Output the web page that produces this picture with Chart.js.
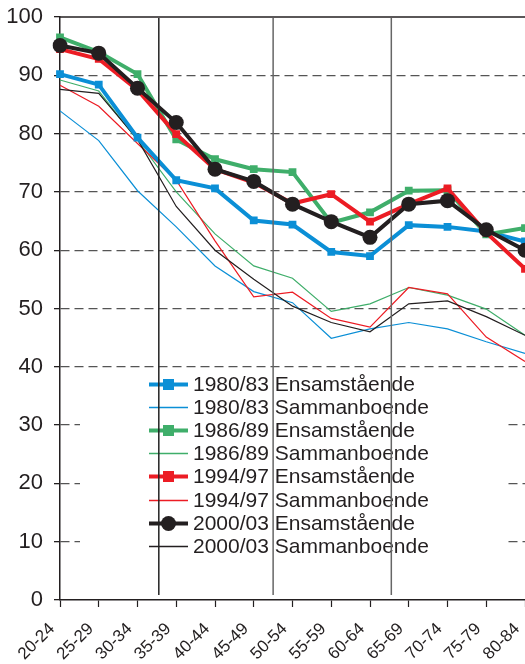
<!DOCTYPE html>
<html>
<head>
<meta charset="utf-8">
<script src="https://cdn.jsdelivr.net/npm/chart.js@4/dist/chart.umd.min.js"></script>
<style>
  html, body { margin: 0; padding: 0; background: #fff; overflow: hidden; }
  canvas { display: block; }
</style>
</head>
<body>
<canvas id="chart" width="525" height="664"></canvas>
<script>
// Age groups on the x axis
const ageGroups = ['20-24', '25-29', '30-34', '35-39', '40-44', '45-49', '50-54',
                   '55-59', '60-64', '65-69', '70-74', '75-79', '80-84'];
const yTicks = [0, 10, 20, 30, 40, 50, 60, 70, 80, 90, 100];

// Share (%) per survey period, living alone / cohabiting
const ens8083 = [90.2, 88.4, 79.3, 72.0, 70.6, 65.1, 64.4, 59.7, 59.0, 64.3, 64.0, 63.2, 61.5];
const sam8083 = [83.9, 78.8, 70.2, 64.0, 57.3, 52.9, 51.0, 44.9, 46.5, 47.6, 46.5, 44.3, 42.3];
const ens8689 = [96.5, 94.0, 90.2, 79.0, 75.6, 73.9, 73.4, 64.7, 66.5, 70.2, 70.3, 62.7, 63.8];
const sam8689 = [89.2, 87.3, 78.9, 70.0, 62.8, 57.3, 55.2, 49.5, 50.8, 53.6, 52.3, 49.9, 45.4];
const ens9497 = [94.5, 92.8, 87.5, 79.9, 73.9, 71.6, 68.0, 69.6, 64.9, 67.9, 70.6, 63.0, 56.8];
const sam9497 = [88.3, 84.7, 78.3, 72.0, 61.6, 52.0, 52.8, 48.3, 46.8, 53.6, 52.5, 45.1, 40.9];
const ens0003 = [95.1, 93.8, 87.8, 81.9, 73.9, 71.8, 67.9, 64.9, 62.2, 67.9, 68.5, 63.5, 60.0];
const sam0003 = [87.6, 86.9, 79.0, 67.5, 60.0, 55.0, 50.4, 47.6, 46.0, 50.8, 51.3, 48.6, 45.4];

// vertical separator lines (category index positions)
const dividers = [2.55, 5.5, 8.55];

const BLUE = '#0b8fd6', GREEN = '#3fae6a', RED = '#ec1c24', BLACK = '#231f20';
const FONT = "'Liberation Sans', Arial, sans-serif";

function thick(label, data, color, style, radius, order) {
  return {
    label, data, order,
    borderColor: color, backgroundColor: color,
    borderWidth: 4, pointStyle: style, pointRadius: radius,
    pointBorderWidth: 0, pointHoverRadius: radius, tension: 0
  };
}
function thin(label, data, color, order) {
  return {
    label, data, order,
    borderColor: color, backgroundColor: color,
    borderWidth: 1.2, pointRadius: 0, pointHoverRadius: 0, tension: 0
  };
}

const overlay = {
  id: 'overlay',
  afterDatasetsDraw(chart) {
    const { ctx, chartArea: a, scales: { x, y } } = chart;
    ctx.save();
    // solid line at 100
    ctx.strokeStyle = BLACK;
    ctx.lineWidth = 1.5;
    ctx.beginPath();
    ctx.moveTo(a.left, y.getPixelForValue(100));
    ctx.lineTo(a.right, y.getPixelForValue(100));
    ctx.stroke();

    // legend box
    ctx.fillStyle = '#fff';
    ctx.fillRect(80, 372, 425, 186);
    ctx.font = '21px ' + FONT;
    ctx.textBaseline = 'middle';
    ctx.textAlign = 'left';
    chart.data.datasets.forEach((ds, i) => {
      const cy = Math.round(384 + i * 23.1) + 0.5;
      ctx.strokeStyle = ds.borderColor;
      ctx.lineWidth = Math.max(ds.borderWidth, 1.6);
      ctx.beginPath();
      ctx.moveTo(149, cy);
      ctx.lineTo(188, cy);
      ctx.stroke();
      if (ds.pointRadius > 0) {
        ctx.fillStyle = ds.backgroundColor;
        const r = ds.pointRadius;
        if (ds.pointStyle === 'circle') {
          ctx.beginPath();
          ctx.arc(168.5, cy, r, 0, Math.PI * 2);
          ctx.fill();
        } else {
          ctx.fillRect(168.5 - r, cy - r, 2 * r, 2 * r);
        }
      }
      ctx.fillStyle = BLACK;
      ctx.fillText(ds.label, 193, cy + 1);
    });

    // vertical separators on top
    dividers.forEach((d, i) => {
      const px = x.getPixelForValue(d);
      ctx.strokeStyle = i === 0 ? '#222' : '#666';
      ctx.lineWidth = 1.5;
      ctx.beginPath();
      ctx.moveTo(px, a.top + 1);
      ctx.lineTo(px, a.bottom - 5);
      ctx.stroke();
    });
    ctx.restore();
  }
};

new Chart(document.getElementById('chart').getContext('2d'), {
  type: 'line',
  data: {
    labels: ageGroups,
    datasets: [
      thick('1980/83 Ensamstående', ens8083, BLUE, 'rect', 5.5, 3),
      thin('1980/83 Sammanboende', sam8083, BLUE, 7),
      thick('1986/89 Ensamstående', ens8689, GREEN, 'rect', 5.5, 2),
      thin('1986/89 Sammanboende', sam8689, GREEN, 6),
      thick('1994/97 Ensamstående', ens9497, RED, 'rect', 5.5, 1),
      thin('1994/97 Sammanboende', sam9497, RED, 5),
      thick('2000/03 Ensamstående', ens0003, BLACK, 'circle', 7.5, 0),
      thin('2000/03 Sammanboende', sam0003, BLACK, 4)
    ]
  },
  options: {
    responsive: false,
    animation: false,
    layout: { autoPadding: false, padding: { top: 17, left: 6, right: 0, bottom: 0 } },
    scales: {
      x: {
        grid: { display: true, drawOnChartArea: false, color: BLACK, tickLength: 7, tickWidth: 1.2 },
        border: { color: BLACK, width: 1.5 },
        ticks: {
          color: BLACK, font: { family: FONT, size: 17 },
          minRotation: 45, maxRotation: 45, autoSkip: false,
          padding: 12, labelOffset: -8
        },
        afterFit: (s) => { s.height = 64; s.paddingLeft = 0; s.paddingRight = 0; }
      },
      y: {
        min: 0, max: 100,
        afterBuildTicks: (s) => { s.ticks = yTicks.map(v => ({ value: v })); },
        grid: {
          color: (c) => (c.tick && (c.tick.value === 0 || c.tick.value === 100)) ? 'rgba(0,0,0,0)' : '#555',
          lineWidth: 1.3, tickLength: 6, tickColor: BLACK, tickBorderDash: []
        },
        border: { color: BLACK, width: 1.5, dash: [9, 5] },
        ticks: { color: BLACK, font: { family: FONT, size: 22 }, padding: 11 },
        afterFit: (s) => { s.width = 54; s.paddingTop = 0; s.paddingBottom = 0; }
      }
    },
    plugins: {
      legend: { display: false },
      tooltip: { enabled: false }
    }
  },
  plugins: [overlay]
});
</script>
</body>
</html>
